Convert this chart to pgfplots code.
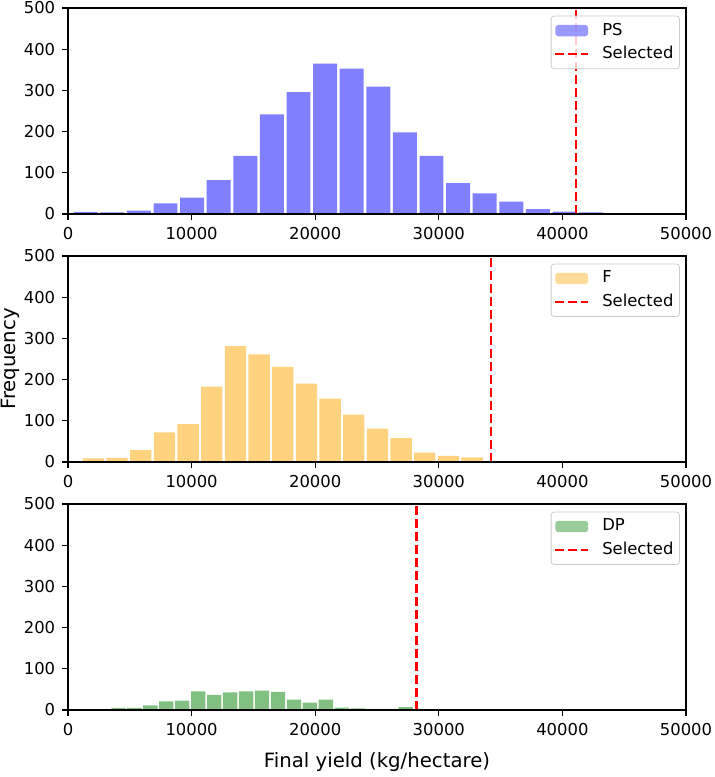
\documentclass[border=0pt]{standalone}
\usepackage{fontspec}
\setmainfont{DejaVu Sans}
\usepackage{pgfplots}
\pgfplotsset{compat=1.18}
\definecolor{psblue}{HTML}{8080FF}
\definecolor{forange}{HTML}{FFD280}
\definecolor{dpgreen}{HTML}{80C080}
\definecolor{legframe}{HTML}{CCCCCC}
\pgfplotsset{
  myax/.style={
    anchor=south west,
    scale only axis,
    width=309pt, height=103pt,
    xmin=0, xmax=50000, ymin=0, ymax=500,
    xtick={0,10000,20000,30000,40000,50000},
    ytick={0,100,200,300,400,500},
    scaled x ticks=false,
    /pgf/number format/.cd, 1000 sep={}, assume math mode=true, /pgfplots/.cd,
    tick align=outside,
    xtick pos=bottom, ytick pos=left,
    major tick length=2.9pt,
    every tick/.style={black, line width=0.6pt},
    axis line style={line width=0.6pt},
    tick label style={font=\fontsize{8.2}{9.8}\selectfont},
    label style={font=\fontsize{9.85}{11.5}\selectfont},
    axis on top,
    legend style={at={(0.99,0.963)}, anchor=north east, draw=legframe,
      rounded corners=1.5pt, fill=white, fill opacity=0.8, text opacity=1,
      font=\fontsize{8.2}{9.8}\selectfont, inner sep=1.5pt, row sep=0pt, column sep=5pt,
      nodes={inner xsep=1.5pt}},
    legend cell align=left,
  },
  barleg/.style={legend image code/.code={\fill[##1] (0pt,-2.85pt) rectangle (16.4pt,2.85pt);}},
  lineleg/.style={legend image code/.code={\draw[##1] (0pt,0pt) -- (16.4pt,0pt);}},
  selline/.style={red, line width=1.2pt, dash pattern=on 4.5pt off 2pt, lineleg},
}
\begin{document}
\begin{tikzpicture}
\useasboundingbox (0,0) rectangle (357pt,388.5pt);
% PS
\begin{axis}[myax, at={(34pt,281.5pt)}]
\addplot[ybar, bar width=1937, fill=psblue, draw=none, barleg] coordinates {
(1433,5) (3585,4) (5737,8) (7889,26) (10041,40) (12193,82) (14345,141) (16497,242)
(18649,296) (20801,365) (22953,353) (25105,309) (27257,198) (29409,141) (31561,75)
(33713,50) (35865,30) (38017,12) (40169,6) (42321,4)};
\addlegendentry{PS}
\addplot[selline] coordinates {(41100,0) (41100,500)};
\addlegendentry{Selected}
\end{axis}
% F
\begin{axis}[myax, at={(34pt,157.5pt)}, ylabel={Frequency},
  ylabel style={at={(axis description cs:-0.094,0.5)}, anchor=center}]
\addplot[ybar, bar width=1724, fill=forange, draw=none, barleg] coordinates {
(2057,9) (3972,10) (5887,29) (7802,72) (9717,92) (11632,183) (13547,281) (15462,261)
(17377,231) (19292,190) (21207,154) (23122,115) (25037,81) (26952,58) (28867,23)
(30782,15) (32697,11) (34612,1) (36527,0) (38442,1)};
\addlegendentry{F}
\addplot[selline] coordinates {(34200,0) (34200,500)};
\addlegendentry{Selected}
\end{axis}
% DP
\begin{axis}[myax, at={(34pt,33.5pt)}, xlabel={Final yield (kg/hectare)},
  xlabel style={at={(axis description cs:0.5,-0.252)}, anchor=center}]
\addplot[ybar, bar width=1162, fill=dpgreen, draw=none, barleg] coordinates {
(4081,5) (5372,5) (6663,11) (7954,21) (9245,23) (10536,45) (11827,37) (13118,43)
(14409,45) (15700,47) (16991,44) (18282,25) (19573,18) (20864,25) (22155,6)
(23446,4) (24737,3) (26028,3) (27319,7) (28610,1)};
\addlegendentry{DP}
\addplot[selline] coordinates {(28200,0) (28200,500)};
\addlegendentry{Selected}
\end{axis}
\end{tikzpicture}
\end{document}
